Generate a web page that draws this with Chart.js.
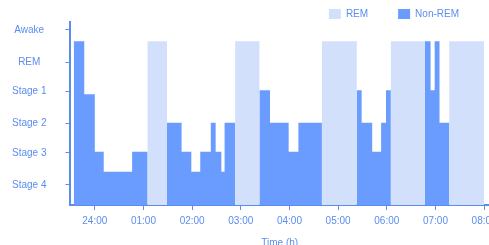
<!DOCTYPE html>
<html>
<head>
<meta charset="utf-8">
<script src="https://cdn.jsdelivr.net/npm/chart.js@4.4.1/dist/chart.umd.min.js"></script>
<style>
  html, body { margin: 0; padding: 0; background: #fff; overflow: hidden; }
  #wrap { position: relative; width: 489px; height: 252px; }
</style>
</head>
<body>
<div id="wrap"><canvas id="hypnogram"></canvas></div>
<script>
// y axis: sleep stages (tick positions)
const stageLabels = ['Stage 4', 'Stage 3', 'Stage 2', 'Stage 1', 'REM', 'Awake'];
const stageTicks = [0.66, 1.71, 2.67, 3.73, 4.68, 5.74];

// x axis: minutes after midnight
const hourTicks = [0, 60, 120, 180, 240, 300, 360, 420, 480];
const hourLabels = ['24:00', '01:00', '02:00', '03:00', '04:00', '05:00', '06:00', '07:00', '08:00'];

// start of each scored segment (minutes), the record ends at segmentEnd
const segmentStart = [-26, -13, 0, 11, 46, 65, 89, 107, 119, 130, 143, 149, 156, 160, 173,
  203, 216, 239, 251, 280, 323, 329, 342, 353, 359, 365, 407, 414, 419, 425, 437];
const segmentEnd = 480;

// bar height per segment, 0 where the other series is active
const nonRemLevel = [5.37, 3.63, 1.75, 1.09, 1.75, 0, 2.70, 1.75, 1.09, 1.75, 2.70, 1.75, 1.09, 2.70, 0,
  3.76, 2.70, 1.75, 2.70, 0, 3.76, 2.70, 1.75, 2.70, 3.76, 0, 5.37, 3.76, 5.37, 2.70, 0];
const remLevel = [0, 0, 0, 0, 0, 5.37, 0, 0, 0, 0, 0, 0, 0, 0, 5.37,
  0, 0, 0, 0, 5.37, 0, 0, 0, 0, 0, 5.37, 0, 0, 0, 0, 5.37];

const blue = '#5b8def';
Chart.defaults.font.family = '"Liberation Sans", Arial, sans-serif';
Chart.defaults.font.size = 10;
Chart.defaults.color = blue;

const toPoints = (levels) => segmentStart
  .map((x, i) => ({ x, y: levels[i] }))
  .concat({ x: segmentEnd, y: levels[levels.length - 1] });

const stepArea = (label, levels, color) => ({
  label,
  data: toPoints(levels),
  backgroundColor: color,
  borderColor: 'transparent',
  borderWidth: 0,
  pointRadius: 0,
  stepped: true,
  fill: 'origin'
});

new Chart(document.getElementById('hypnogram'), {
  type: 'line',
  data: {
    datasets: [
      stepArea('REM', remLevel, '#d3e0fc'),
      stepArea('Non-REM', nonRemLevel, '#6a9cff')
    ]
  },
  options: {
    responsive: true,
    maintainAspectRatio: false,
    animation: false,
    layout: { padding: { top: -21, left: -7, right: 0, bottom: 0 } },
    plugins: {
      legend: {
        align: 'end',
        maxHeight: 43,
        labels: { boxWidth: 12, boxHeight: 10, padding: 30, color: blue }
      },
      tooltip: { enabled: false }
    },
    scales: {
      x: {
        type: 'linear',
        min: -30,
        max: 486,
        border: { color: blue, width: 2 },
        grid: { drawOnChartArea: false, color: blue, tickLength: 5 },
        ticks: {
          padding: 5,
          maxRotation: 0,
          autoSkip: false,
          callback: (v, i) => hourLabels[i]
        },
        afterBuildTicks: (s) => { s.ticks = hourTicks.map((value) => ({ value })); },
        afterFit: (s) => { s.paddingLeft = 0; s.paddingRight = 0; },
        title: { display: true, text: 'Time (h)', color: blue, padding: { top: 5, bottom: 3 } }
      },
      y: {
        min: 0,
        max: 6,
        border: { color: blue, width: 2 },
        grid: { drawOnChartArea: false, color: blue, tickLength: 5 },
        ticks: {
          crossAlign: 'center',
          padding: 19,
          autoSkip: false,
          callback: (v, i) => stageLabels[i]
        },
        afterBuildTicks: (s) => { s.ticks = stageTicks.map((value) => ({ value })); },
        afterFit: (s) => { s.paddingTop = 0; s.paddingBottom = 0; }
      }
    }
  }
});
</script>
</body>
</html>
